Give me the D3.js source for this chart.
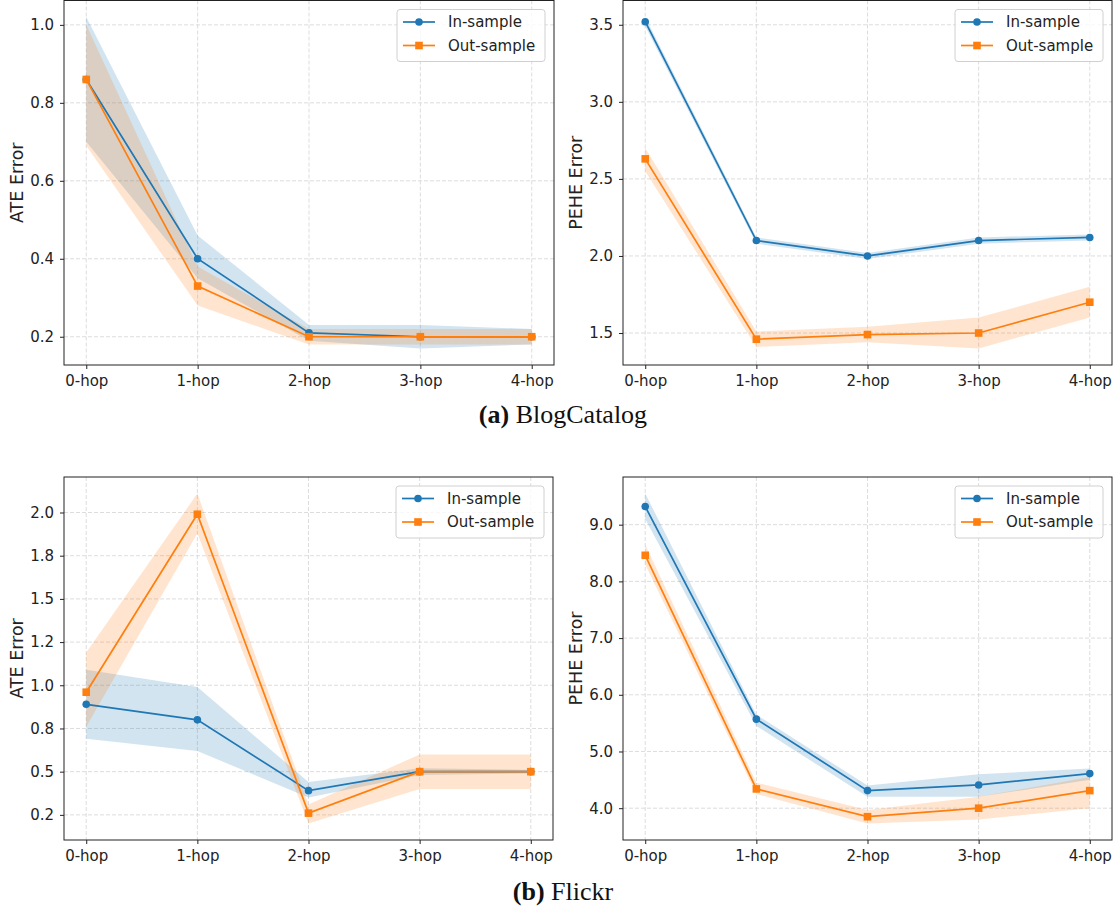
<!DOCTYPE html>
<html>
<head>
<meta charset="utf-8">
<script src="https://cdn.jsdelivr.net/npm/d3@7"></script>
<style>
  body { margin: 0; background: #fff; }
  svg { display: block; }
  .tick text { font-family: "DejaVu Sans", sans-serif; font-size: 15px; fill: #222; }
</style>
</head>
<body>
<div id="canvas"></div>
<script>
const hops = ["0-hop", "1-hop", "2-hop", "3-hop", "4-hop"];

// (a) BlogCatalog - ATE
const blogAteIn = [0.86, 0.40, 0.21, 0.20, 0.20];
const blogAteInLo = [0.70, 0.35, 0.19, 0.17, 0.18];
const blogAteInHi = [1.02, 0.46, 0.23, 0.23, 0.22];
const blogAteOut = [0.86, 0.33, 0.20, 0.20, 0.20];
const blogAteOutLo = [0.69, 0.28, 0.18, 0.18, 0.18];
const blogAteOutHi = [1.00, 0.38, 0.22, 0.22, 0.22];
const blogAteTicks = [0.2, 0.4, 0.6, 0.8, 1.0];
const blogAteTickLabels = ["0.2", "0.4", "0.6", "0.8", "1.0"];

// (a) BlogCatalog - PEHE
const blogPeheIn = [3.52, 2.10, 2.00, 2.10, 2.12];
const blogPeheInLo = [3.49, 2.08, 1.98, 2.08, 2.10];
const blogPeheInHi = [3.55, 2.12, 2.02, 2.12, 2.14];
const blogPeheOut = [2.63, 1.46, 1.49, 1.50, 1.70];
const blogPeheOutLo = [2.55, 1.41, 1.44, 1.40, 1.60];
const blogPeheOutHi = [2.70, 1.51, 1.54, 1.60, 1.80];
const blogPeheTicks = [1.5, 2.0, 2.5, 3.0, 3.5];
const blogPeheTickLabels = ["1.5", "2.0", "2.5", "3.0", "3.5"];

// (b) Flickr - ATE
const flickrAteIn = [0.89, 0.80, 0.39, 0.50, 0.50];
const flickrAteInLo = [0.69, 0.62, 0.35, 0.48, 0.49];
const flickrAteInHi = [1.09, 0.99, 0.44, 0.52, 0.51];
const flickrAteOut = [0.96, 1.99, 0.26, 0.50, 0.50];
const flickrAteOutLo = [0.76, 1.88, 0.20, 0.40, 0.40];
const flickrAteOutHi = [1.19, 2.11, 0.31, 0.60, 0.60];
const flickrAteTicks = [0.25, 0.5, 0.75, 1.0, 1.25, 1.5, 1.75, 2.0];
const flickrAteTickLabels = ["0.2", "0.5", "0.8", "1.0", "1.2", "1.5", "1.8", "2.0"];

// (b) Flickr - PEHE
const flickrPeheIn = [9.32, 5.57, 4.31, 4.41, 4.61];
const flickrPeheInLo = [9.10, 5.45, 4.20, 4.20, 4.50];
const flickrPeheInHi = [9.55, 5.65, 4.40, 4.60, 4.70];
const flickrPeheOut = [8.46, 4.34, 3.85, 4.00, 4.31];
const flickrPeheOutLo = [8.30, 4.25, 3.73, 3.80, 4.00];
const flickrPeheOutHi = [8.65, 4.45, 3.97, 4.20, 4.55];
const flickrPeheTicks = [4, 5, 6, 7, 8, 9];
const flickrPeheTickLabels = ["4.0", "5.0", "6.0", "7.0", "8.0", "9.0"];

const seriesNames = ["In-sample", "Out-sample"];
const C0 = "#1f77b4", C1 = "#ff7f0e";

const width = 1114, height = 909;

const panels = [
  { left: 64, top: 0.5, right: 554, bottom: 365, label: "ATE Error",
    ticks: blogAteTicks, tickLabels: blogAteTickLabels,
    inMean: blogAteIn, inLo: blogAteInLo, inHi: blogAteInHi,
    outMean: blogAteOut, outLo: blogAteOutLo, outHi: blogAteOutHi },
  { left: 623, top: 0.5, right: 1112, bottom: 365, label: "PEHE Error",
    ticks: blogPeheTicks, tickLabels: blogPeheTickLabels,
    inMean: blogPeheIn, inLo: blogPeheInLo, inHi: blogPeheInHi,
    outMean: blogPeheOut, outLo: blogPeheOutLo, outHi: blogPeheOutHi },
  { left: 64, top: 477, right: 553, bottom: 840, label: "ATE Error",
    ticks: flickrAteTicks, tickLabels: flickrAteTickLabels,
    inMean: flickrAteIn, inLo: flickrAteInLo, inHi: flickrAteInHi,
    outMean: flickrAteOut, outLo: flickrAteOutLo, outHi: flickrAteOutHi },
  { left: 623, top: 477, right: 1112, bottom: 840, label: "PEHE Error",
    ticks: flickrPeheTicks, tickLabels: flickrPeheTickLabels,
    inMean: flickrPeheIn, inLo: flickrPeheInLo, inHi: flickrPeheInHi,
    outMean: flickrPeheOut, outLo: flickrPeheOutLo, outHi: flickrPeheOutHi }
];

const svg = d3.select("#canvas").append("svg")
  .attr("width", width)
  .attr("height", height);

panels.forEach(p => {
  const iw = p.right - p.left, ih = p.bottom - p.top;
  const g = svg.append("g").attr("transform", `translate(${p.left},${p.top})`);

  // matplotlib-like autoscale: data extent plus 5% margins
  const lo = d3.min(p.inLo.concat(p.outLo)), hi = d3.max(p.inHi.concat(p.outHi));
  const pad = (hi - lo) * 0.05;
  const y = d3.scaleLinear().domain([lo - pad, hi + pad]).range([ih, 0]);
  const x = d3.scaleLinear().domain([-0.2, 4.2]).range([0, iw]);
  const idx = hops.map((d, i) => i);

  // grid
  g.append("g").selectAll("line").data(idx).enter().append("line")
    .attr("x1", d => x(d)).attr("x2", d => x(d))
    .attr("y1", 0).attr("y2", ih)
    .attr("stroke", "#d4d4d4").attr("stroke-width", 0.8).attr("stroke-dasharray", "4,2");
  g.append("g").selectAll("line").data(p.ticks).enter().append("line")
    .attr("x1", 0).attr("x2", iw)
    .attr("y1", d => y(d)).attr("y2", d => y(d))
    .attr("stroke", "#d4d4d4").attr("stroke-width", 0.8).attr("stroke-dasharray", "4,2");

  const series = [
    { mean: p.inMean, lo: p.inLo, hi: p.inHi, color: C0, marker: "circle" },
    { mean: p.outMean, lo: p.outLo, hi: p.outHi, color: C1, marker: "square" }
  ];

  // bands
  series.forEach(s => {
    const area = d3.area()
      .x(i => x(i))
      .y0(i => y(s.lo[i]))
      .y1(i => y(s.hi[i]));
    g.append("path").datum(idx)
      .attr("d", area)
      .attr("fill", s.color)
      .attr("fill-opacity", 0.2);
  });

  // lines + markers
  series.forEach(s => {
    const line = d3.line().x(i => x(i)).y(i => y(s.mean[i]));
    g.append("path").datum(idx)
      .attr("d", line)
      .attr("fill", "none")
      .attr("stroke", s.color)
      .attr("stroke-width", 1.7);
    if (s.marker === "circle") {
      g.append("g").selectAll("circle").data(idx).enter().append("circle")
        .attr("cx", i => x(i)).attr("cy", i => y(s.mean[i]))
        .attr("r", 3.8).attr("fill", s.color);
    } else {
      g.append("g").selectAll("rect").data(idx).enter().append("rect")
        .attr("x", i => x(i) - 3.8).attr("y", i => y(s.mean[i]) - 3.8)
        .attr("width", 7.6).attr("height", 7.6).attr("fill", s.color);
    }
  });

  // axes
  const xAxis = g.append("g")
    .attr("transform", `translate(0,${ih})`)
    .call(d3.axisBottom(x).tickValues(idx).tickFormat(i => hops[i]).tickSize(4).tickPadding(6));
  const yAxis = g.append("g")
    .call(d3.axisLeft(y).tickValues(p.ticks).tickFormat((d, i) => p.tickLabels[i]).tickSize(4).tickPadding(6));
  [xAxis, yAxis].forEach(a => {
    a.select(".domain").remove();
    a.selectAll(".tick line").attr("stroke", "#222").attr("stroke-width", 1);
  });

  // frame
  g.append("rect")
    .attr("x", 0).attr("y", 0).attr("width", iw).attr("height", ih)
    .attr("fill", "none").attr("stroke", "#222").attr("stroke-width", 1);

  // y label
  g.append("text")
    .attr("transform", `translate(-47,${ih / 2}) rotate(-90)`)
    .attr("text-anchor", "middle")
    .attr("dominant-baseline", "central")
    .style("font-family", "DejaVu Sans, sans-serif")
    .style("font-size", "17.5px")
    .attr("fill", "#222")
    .text(p.label);

  // legend
  const lw = 148, lh = 52;
  const leg = g.append("g").attr("transform", `translate(${iw - 9 - lw},${9})`);
  leg.append("rect")
    .attr("width", lw).attr("height", lh).attr("rx", 3)
    .attr("fill", "#fff").attr("fill-opacity", 0.8)
    .attr("stroke", "#d0d0d0").attr("stroke-width", 1);
  series.forEach((s, k) => {
    const cy = 12.5 + k * 23.5;
    leg.append("line")
      .attr("x1", 6).attr("x2", 38).attr("y1", cy).attr("y2", cy)
      .attr("stroke", s.color).attr("stroke-width", 1.7);
    if (s.marker === "circle") {
      leg.append("circle").attr("cx", 22).attr("cy", cy).attr("r", 3.8).attr("fill", s.color);
    } else {
      leg.append("rect").attr("x", 22 - 3.8).attr("y", cy - 3.8)
        .attr("width", 7.6).attr("height", 7.6).attr("fill", s.color);
    }
    leg.append("text")
      .attr("x", 51).attr("y", cy)
      .attr("dominant-baseline", "central")
      .style("font-family", "DejaVu Sans, sans-serif")
      .style("font-size", "15px")
      .attr("fill", "#222")
      .text(seriesNames[k]);
  });
});

// captions
const captions = [
  { tag: "(a)", name: " BlogCatalog", y: 423 },
  { tag: "(b)", name: " Flickr", y: 900 }
];
captions.forEach(c => {
  const t = svg.append("text")
    .attr("x", 563).attr("y", c.y)
    .attr("text-anchor", "middle")
    .style("font-family", "Liberation Serif, serif")
    .style("font-size", "26px")
    .attr("fill", "#111");
  t.append("tspan").style("font-weight", "bold").text(c.tag);
  t.append("tspan").text(c.name);
});
</script>
</body>
</html>
